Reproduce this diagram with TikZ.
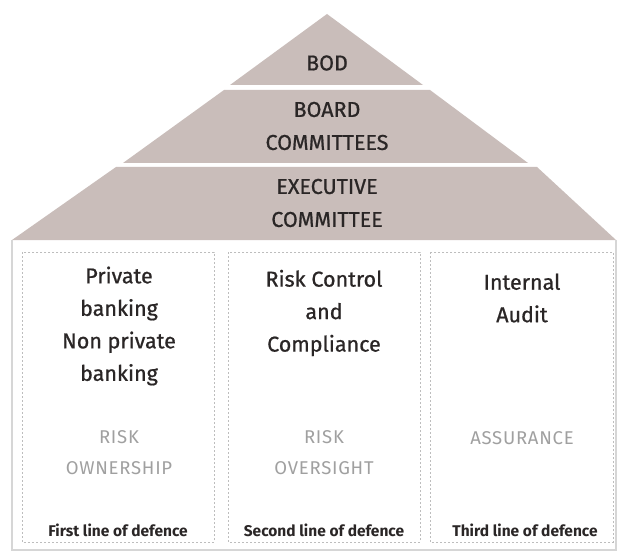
\documentclass[tikz,border=0pt]{standalone}
\usepackage{fontspec}
\setmainfont{Fira Sans}
\newfontfamily\medfont{Fira Sans}[FakeBold=0.8]
\newfontfamily\lightfont{Fira Sans}[LetterSpace=4]
\definecolor{pyr}{HTML}{C9BDBA}
\definecolor{pyrtext}{HTML}{2A2626}
\definecolor{greytext}{HTML}{A0A0A0}
\definecolor{outerline}{HTML}{D6D6D6}
\definecolor{dashline}{HTML}{BDBDBD}
\begin{document}
\begin{tikzpicture}[x=1pt,y=-1pt,
  band/.style={fill=pyr, draw=none},
  pyrlabel/.style={text=pyrtext, align=center, font={\medfont\fontsize{21.5}{33}\selectfont}, inner sep=0pt},
  colbox/.style={draw=dashline, line width=0.6pt, dash pattern=on 2pt off 2pt},
  heading/.style={text=pyrtext, align=center, font={\medfont\fontsize{21.5}{32.5}\selectfont}, inner sep=0pt},
  role/.style={text=greytext, align=center, font={\lightfont\fontsize{18.5}{31}\selectfont}, inner sep=0pt},
  lineof/.style={text=pyrtext, align=center, font={\bfseries\fontsize{15.5}{16}\selectfont}, inner sep=0pt}
]
\useasboundingbox (0,0) rectangle (623,553);
\fill[white] (0,0) rectangle (623,553);

% pyramid bands
\fill[band] (327,14) -- (423,85) -- (230,85) -- cycle;
\fill[band] (224,90) -- (430,90) -- (528,163) -- (123,163) -- cycle;
\fill[band] (116,167) -- (537,167) -- (616,240) -- (12,240) -- cycle;

\node[pyrlabel] (bod) at (327,63) {BOD};
\node[pyrlabel] (board) at (327,126) {BOARD\\COMMITTEES};
\node[pyrlabel] (exec) at (327,203) {EXECUTIVE\\COMMITTEE};

% outer box
\draw[outerline, line width=1.6pt] (12,240) -- (12,550) -- (616,550) -- (616,240);

% columns
\draw[colbox] (22,252) rectangle (214,542);
\draw[colbox] (228,252) rectangle (420,542);
\draw[colbox] (430,252) rectangle (613,542);

\node[heading] (h1) at (119,326) {Private\\banking\\Non private\\banking};
\node[heading] (h2) at (324,313) {Risk Control\\and\\Compliance};
\node[heading] (h3) at (522,298) {Internal\\Audit};

\node[role] (r1) at (119,453) {RISK\\OWNERSHIP};
\node[role] (r2) at (324,453) {RISK\\OVERSIGHT};
\node[role] (r3) at (522,438) {ASSURANCE};

\node[lineof] (l1) at (118,530) {First line of defence};
\node[lineof] (l2) at (324,530) {Second line of defence};
\node[lineof] (l3) at (525,530) {Third line of defence};
\end{tikzpicture}
\end{document}
